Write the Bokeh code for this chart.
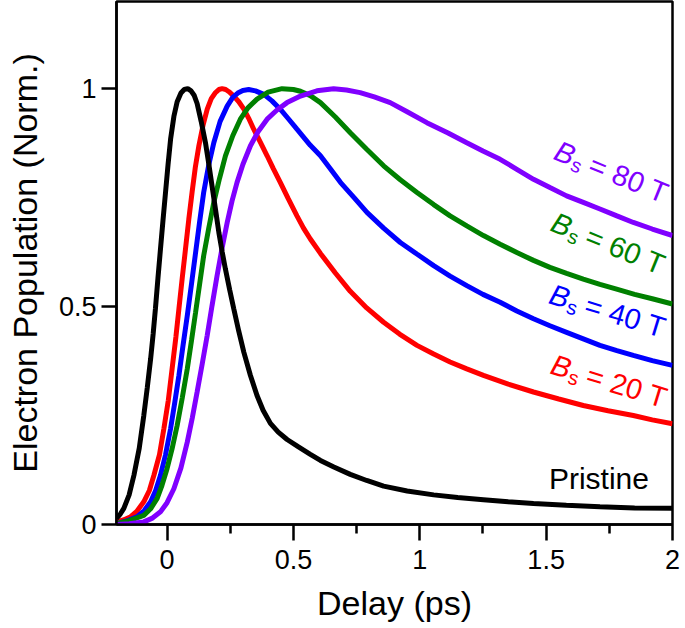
import math
from bokeh.plotting import figure
from bokeh.models import Range1d, FixedTicker, CustomJSTickFormatter
from bokeh.core.properties import value
from bokeh.embed import file_html
from bokeh.resources import INLINE

# ---- data ----
x_pristine = [-0.2, -0.185, -0.171, -0.15, -0.131, -0.11, -0.092, -0.078, -0.065, -0.055, -0.046, -0.036,
              -0.026, -0.016, -0.006, 0.004, 0.014, 0.027, 0.040, 0.055, 0.068, 0.082, 0.095, 0.107,
              0.119, 0.135, 0.152, 0.165, 0.178, 0.192, 0.205, 0.218, 0.231, 0.248, 0.264, 0.284,
              0.304, 0.33, 0.356, 0.38, 0.409, 0.44, 0.475, 0.52, 0.567, 0.607, 0.66, 0.725, 0.79,
              0.857, 0.95, 1.055, 1.15, 1.252, 1.35, 1.45, 1.58, 1.713, 1.85, 2.0]
y_pristine = [0.014, 0.024, 0.037, 0.068, 0.113, 0.175, 0.25, 0.315, 0.38, 0.437, 0.495, 0.565,
              0.632, 0.698, 0.762, 0.826, 0.884, 0.936, 0.970, 0.990, 0.998, 1.0, 0.995, 0.985,
              0.966, 0.925, 0.876, 0.828, 0.777, 0.722, 0.670, 0.626, 0.586, 0.538, 0.495, 0.443,
              0.395, 0.342, 0.296, 0.262, 0.232, 0.212, 0.195, 0.178, 0.161, 0.147, 0.132, 0.115, 0.101,
              0.088, 0.077, 0.068, 0.062, 0.057, 0.052, 0.048, 0.044, 0.041, 0.038, 0.037]

x_20T = [-0.2, -0.17, -0.144, -0.12, -0.092, -0.07, -0.052, -0.03, -0.0125, 0.005, 0.020, 0.035, 0.047,
         0.060, 0.073, 0.086, 0.099, 0.112, 0.126, 0.142, 0.159, 0.175, 0.19, 0.205, 0.218, 0.232,
         0.245, 0.264, 0.284, 0.304, 0.323, 0.343, 0.37, 0.396, 0.42, 0.448, 0.48, 0.514, 0.54,
         0.567, 0.607, 0.666, 0.725, 0.79, 0.857, 0.92, 0.989, 1.055, 1.120, 1.186, 1.252, 1.35,
         1.450, 1.55, 1.647, 1.745, 1.845, 1.92, 2.0]
y_20T = [0.006, 0.011, 0.018, 0.030, 0.052, 0.078, 0.113, 0.16, 0.22, 0.285, 0.357, 0.43, 0.495,
         0.565, 0.632, 0.70, 0.762, 0.82, 0.869, 0.915, 0.953, 0.977, 0.99, 0.998, 1.0, 0.998,
         0.993, 0.983, 0.97, 0.953, 0.932, 0.907, 0.876, 0.846, 0.817, 0.785, 0.747, 0.708, 0.68,
         0.655, 0.622, 0.577, 0.535, 0.497, 0.464, 0.437, 0.411, 0.391, 0.373, 0.357, 0.342, 0.322,
         0.304, 0.288, 0.273, 0.261, 0.250, 0.240, 0.231]

x_40T = [-0.2, -0.16, -0.118, -0.09, -0.065, -0.045, -0.026, -0.006, 0.014, 0.030, 0.047, 0.063, 0.080,
         0.097, 0.113, 0.129, 0.145, 0.165, 0.185, 0.21, 0.238, 0.26, 0.28, 0.30, 0.323, 0.35, 0.383,
         0.415, 0.448, 0.48, 0.514, 0.54, 0.567, 0.607, 0.646, 0.686, 0.74, 0.791, 0.857, 0.923,
         0.99, 1.055, 1.12, 1.186, 1.25, 1.318, 1.384, 1.450, 1.515, 1.581, 1.647, 1.713, 1.78,
         1.845, 1.92, 2.0]
y_40T = [0.002, 0.008, 0.018, 0.032, 0.052, 0.078, 0.113, 0.16, 0.22, 0.278, 0.342, 0.41, 0.479,
         0.553, 0.624, 0.695, 0.762, 0.825, 0.876, 0.925, 0.960, 0.98, 0.99, 0.996, 0.998, 0.995, 0.987,
         0.972, 0.953, 0.931, 0.907, 0.889, 0.870, 0.846, 0.816, 0.785, 0.75, 0.716, 0.68, 0.647,
         0.62, 0.594, 0.57, 0.548, 0.528, 0.510, 0.49, 0.472, 0.456, 0.441, 0.426, 0.411, 0.399,
         0.388, 0.376, 0.365]

x_60T = [-0.2, -0.15, -0.092, -0.065, -0.039, -0.02, 0.0, 0.020, 0.040, 0.060, 0.080, 0.097, 0.113,
         0.129, 0.145, 0.165, 0.185, 0.208, 0.231, 0.26, 0.290, 0.32, 0.356, 0.40, 0.455, 0.50,
         0.528, 0.567, 0.607, 0.666, 0.725, 0.79, 0.857, 0.923, 0.989, 1.055, 1.120, 1.186, 1.252,
         1.318, 1.384, 1.45, 1.515, 1.581, 1.647, 1.713, 1.779, 1.85, 1.92, 2.0]
y_60T = [0.002, 0.009, 0.021, 0.036, 0.060, 0.09, 0.128, 0.174, 0.227, 0.29, 0.357, 0.423, 0.487,
         0.552, 0.617, 0.68, 0.739, 0.795, 0.846, 0.892, 0.930, 0.956, 0.976, 0.992, 1.0, 0.998,
         0.994, 0.984, 0.968, 0.935, 0.899, 0.861, 0.823, 0.791, 0.762, 0.734, 0.708, 0.685, 0.663,
         0.643, 0.624, 0.606, 0.590, 0.576, 0.563, 0.551, 0.540, 0.528, 0.518, 0.506]

x_80T = [-0.2, -0.15, -0.092, -0.06, -0.026, 0.0, 0.027, 0.055, 0.080, 0.10, 0.119, 0.139, 0.159, 0.178,
         0.198, 0.218, 0.238, 0.257, 0.277, 0.30, 0.330, 0.36, 0.396, 0.435, 0.475, 0.528, 0.593,
         0.659, 0.71, 0.764, 0.82, 0.883, 0.95, 1.028, 1.11, 1.186, 1.25, 1.318, 1.384, 1.450,
         1.515, 1.581, 1.647, 1.713, 1.78, 1.845, 1.92, 2.0]
y_80T = [0.0, 0.002, 0.006, 0.014, 0.029, 0.05, 0.082, 0.13, 0.189, 0.245, 0.304, 0.368, 0.434, 0.502,
         0.571, 0.635, 0.693, 0.742, 0.785, 0.826, 0.869, 0.901, 0.930, 0.951, 0.968, 0.983, 0.995,
         1.0, 0.997, 0.991, 0.981, 0.968, 0.947, 0.922, 0.899, 0.876, 0.857, 0.838, 0.815, 0.792,
         0.773, 0.754, 0.739, 0.724, 0.708, 0.693, 0.678, 0.663]

x_ticks = [0, 0.5, 1, 1.5, 2]
x_minor_ticks = [0.25, 0.75, 1.25, 1.75]
y_ticks = [0, 0.5, 1]
field_values = [80, 60, 40, 20]

# ---- styling ----
FONT = "Liberation Sans"
BLACK = "#000000"
RED = "#ff0000"
BLUE = "#0000ff"
GREEN = "#008000"
PURPLE = "#8000ff"

p = figure(width=685, height=628, x_range=Range1d(-0.2, 2.0), y_range=Range1d(0, 1.2),
           output_backend="svg", toolbar_location=None,
           min_border_left=116, min_border_right=13, min_border_top=1, min_border_bottom=104)
p.grid.visible = False
p.outline_line_color = BLACK
p.outline_line_width = 2.5
p.background_fill_color = "white"
p.border_fill_color = "white"

fmt = CustomJSTickFormatter(code="return tick.toString();")

xa = p.xaxis[0]
xa.ticker = FixedTicker(ticks=x_ticks, minor_ticks=x_minor_ticks)
xa.formatter = fmt
xa.axis_line_width = 2.5
xa.major_tick_line_width = 2.5
xa.minor_tick_line_width = 2.5
xa.major_tick_out = 16
xa.major_tick_in = 0
xa.minor_tick_out = 9
xa.minor_tick_in = 0
xa.major_label_text_font = FONT
xa.major_label_text_font_size = "27px"
xa.major_label_text_color = BLACK
xa.major_label_standoff = 9
xa.axis_label = "Delay (ps)"
xa.axis_label_text_font = FONT
xa.axis_label_text_font_size = "34px"
xa.axis_label_text_font_style = "normal"
xa.axis_label_text_color = BLACK
xa.axis_label_standoff = 12

ya = p.yaxis[0]
ya.ticker = FixedTicker(ticks=y_ticks, minor_ticks=[])
ya.formatter = fmt
ya.axis_line_width = 2.5
ya.major_tick_line_width = 2.5
ya.major_tick_out = 15
ya.major_tick_in = 0
ya.minor_tick_out = 0
ya.minor_tick_in = 0
ya.major_label_text_font = FONT
ya.major_label_text_font_size = "27px"
ya.major_label_text_color = BLACK
ya.major_label_standoff = 5
ya.axis_label = "Electron Population (Norm.)"
ya.axis_label_text_font = FONT
ya.axis_label_text_font_size = "34px"
ya.axis_label_text_font_style = "normal"
ya.axis_label_text_color = BLACK
ya.axis_label_standoff = 12

LW = 5
p.line(x_20T, y_20T, line_color=RED, line_width=LW)
p.line(x_40T, y_40T, line_color=BLUE, line_width=LW)
p.line(x_60T, y_60T, line_color=GREEN, line_width=LW)
p.line(x_80T, y_80T, line_color=PURPLE, line_width=LW)
p.line(x_pristine, y_pristine, line_color=BLACK, line_width=LW)

# ---- curve labels ----
LIFT = 10  # px, baseline correction perpendicular to the text direction
label_place = [  # (value index, colour, x, y, angle in degrees clockwise)
    (0, PURPLE, 1.524, 0.839, 22),
    (1, GREEN, 1.511, 0.675, 22),
    (2, BLUE, 1.505, 0.508, 17),
    (3, RED, 1.511, 0.347, 17),
]
for idx, col, lx, ly, deg in label_place:
    a = math.radians(deg)

    def off(d, s):
        s = s - LIFT
        return d * math.cos(a) - s * math.sin(a), d * math.sin(a) + s * math.cos(a)

    common = dict(angle=-a, text_font=value(FONT), text_color=col,
                  text_align="left", text_baseline="alphabetic")
    xo, yo = off(0, 0)
    p.text(x=[lx], y=[ly], text=["B"], x_offset=xo, y_offset=yo,
           text_font_style="italic", text_font_size="29px", **common)
    xo, yo = off(20, 7)
    p.text(x=[lx], y=[ly], text=["s"], x_offset=xo, y_offset=yo, text_font_size="20px", **common)
    xo, yo = off(37, 0)
    p.text(x=[lx], y=[ly], text=[f"= {field_values[idx]} T"], x_offset=xo, y_offset=yo,
           text_font_size="29px", **common)

p.text(x=[1.511], y=[0.0826], text=["Pristine"], y_offset=-LIFT, text_font=value(FONT),
       text_font_size="30px", text_color=BLACK, text_align="left", text_baseline="alphabetic")

open("out.html", "w").write(file_html(p, INLINE))
